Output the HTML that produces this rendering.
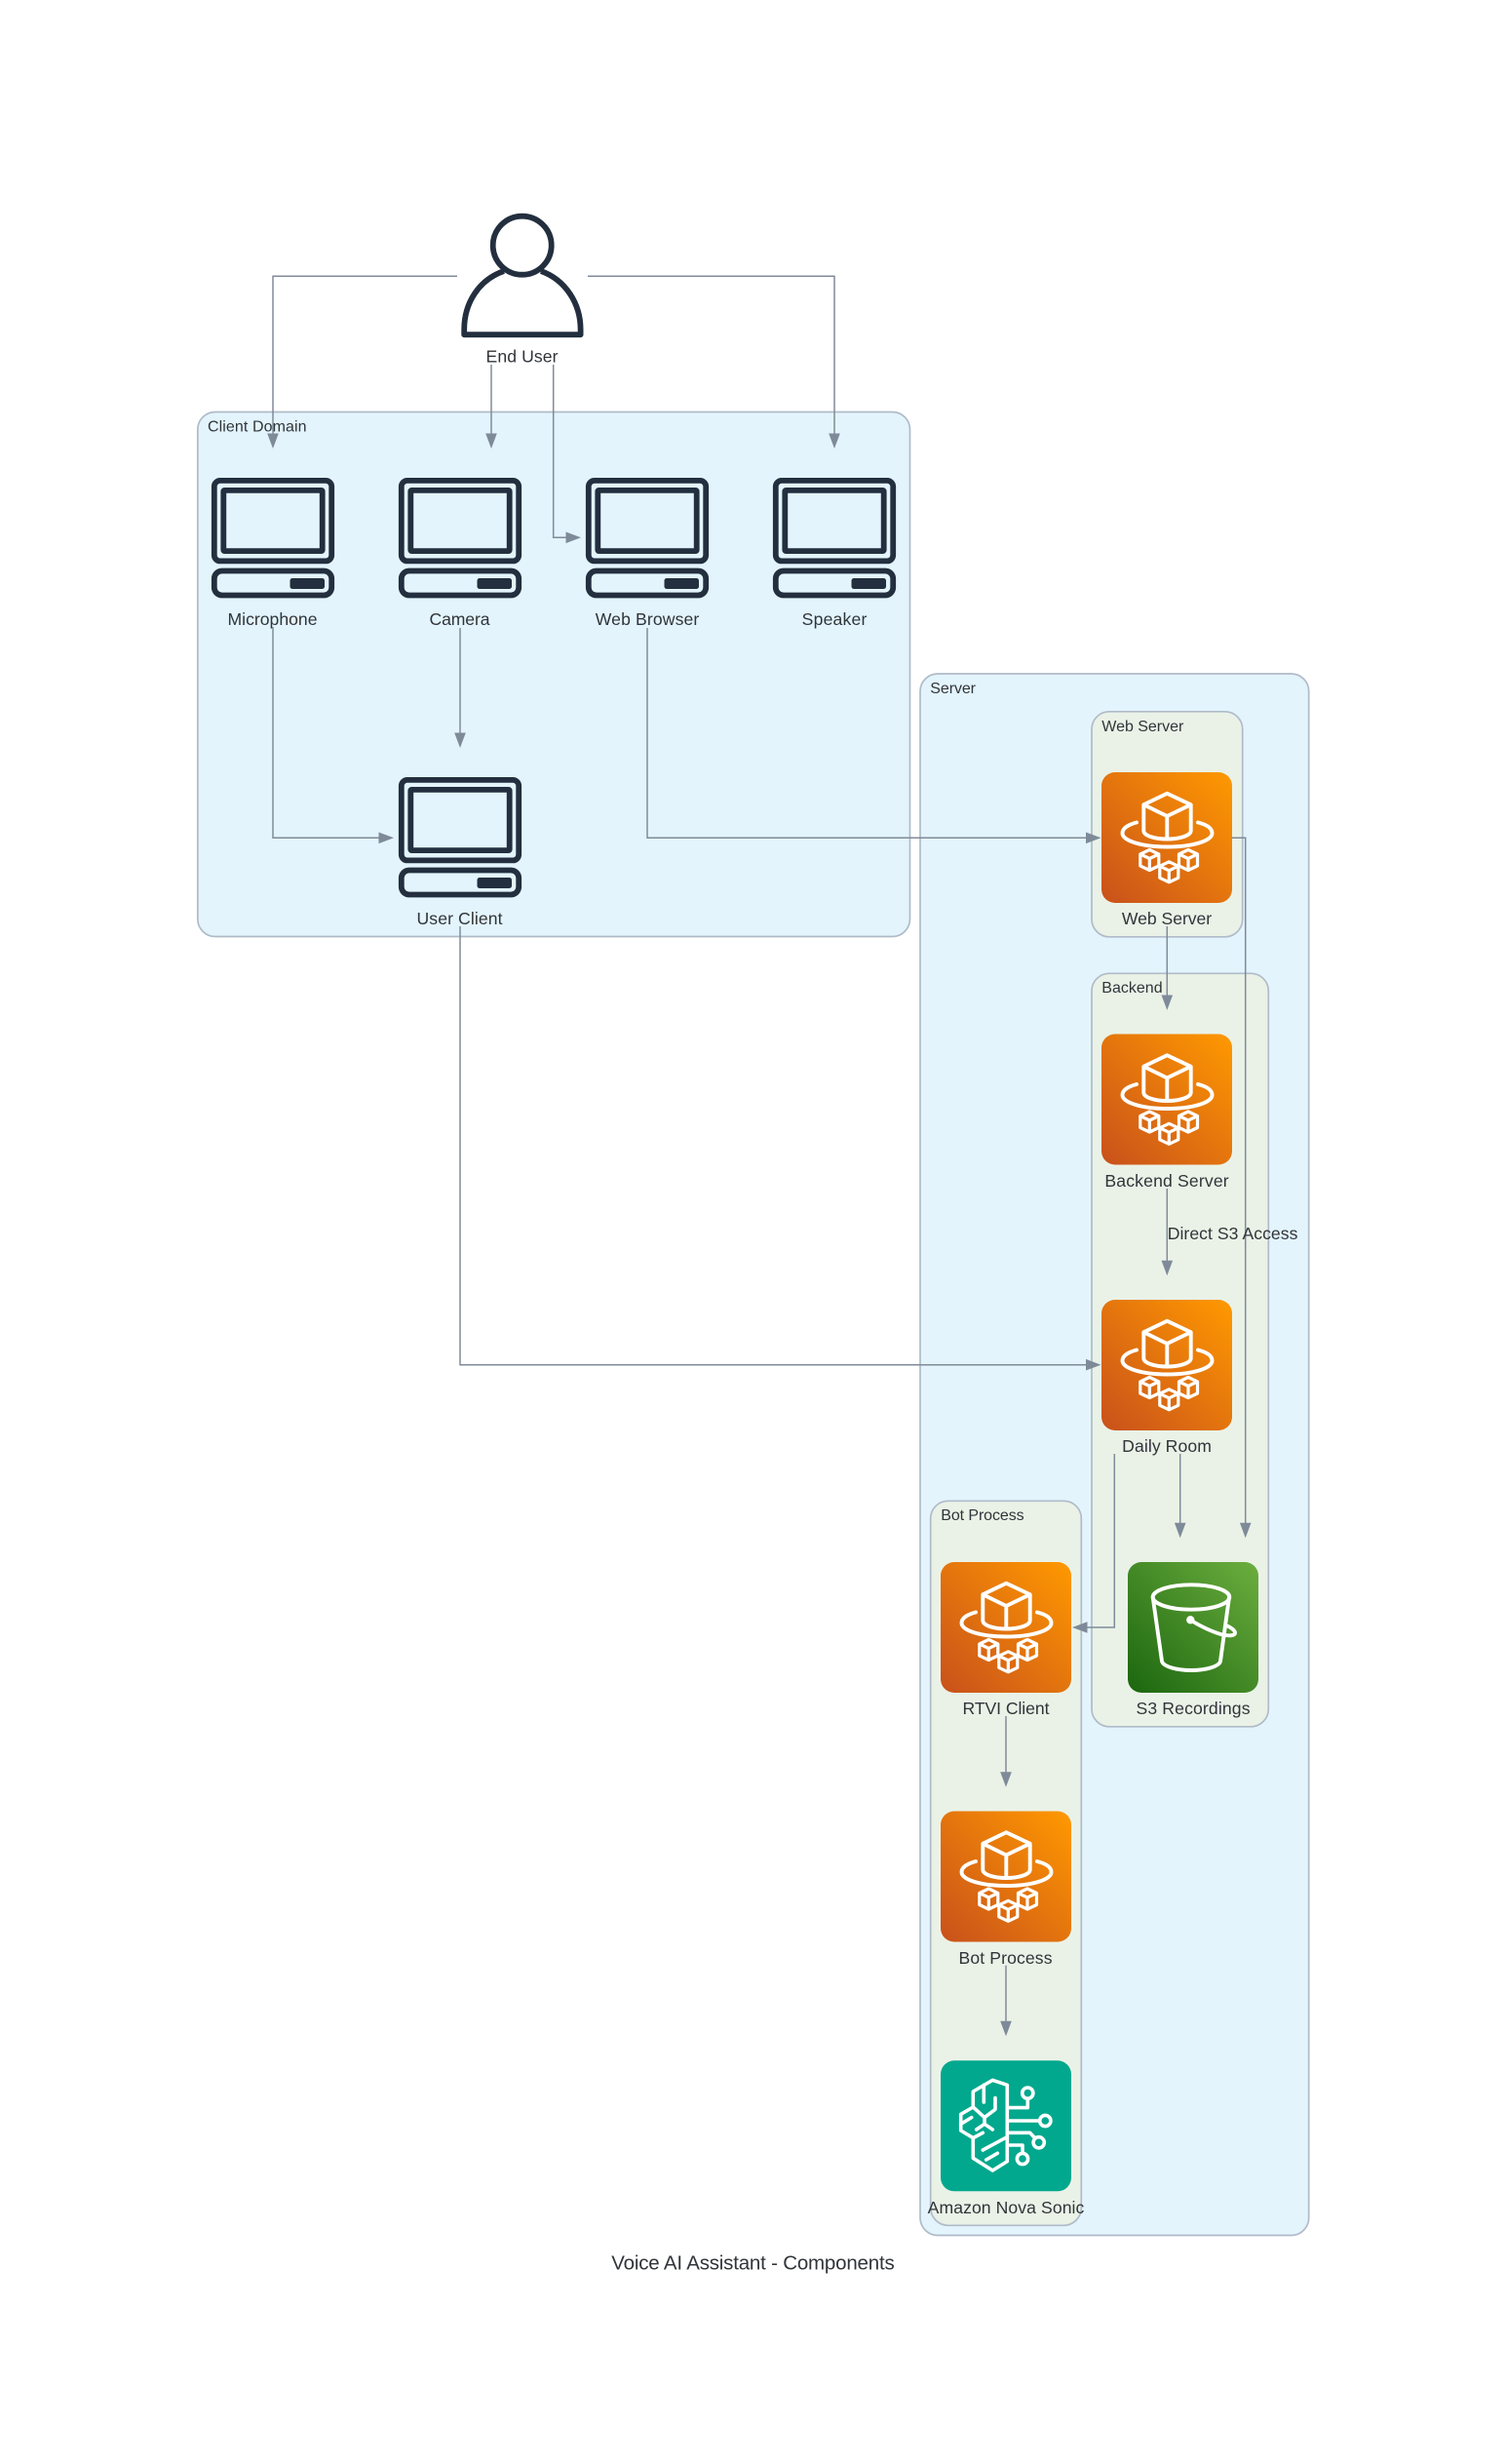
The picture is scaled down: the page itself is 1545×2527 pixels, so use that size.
<!DOCTYPE html>
<html>
<head>
<meta charset="utf-8">
<title>Voice AI Assistant - Components</title>
<style>
html,body{margin:0;padding:0;background:#fff}
svg{display:block}
text{font-family:"Liberation Sans",sans-serif;fill:#30353a}
.n{font-size:17.6px;text-anchor:middle}
.g{font-size:16px}
.e{fill:none;stroke:#808b99;stroke-width:1.5}
.a{fill:#7f8a99}
.grp{stroke:#b0bbc8;stroke-width:1.7}
.w{fill:none;stroke:#fff;stroke-width:3.9;stroke-linejoin:round;stroke-linecap:round}
</style>
</head>
<body>
<svg width="1545" height="2527" viewBox="0 0 1545 2527" xmlns="http://www.w3.org/2000/svg">
<defs>
<linearGradient id="og" x1="0" y1="1" x2="1" y2="0"><stop offset="0" stop-color="#C8511B"/><stop offset="1" stop-color="#FF9900"/></linearGradient>
<linearGradient id="gg" x1="0" y1="1" x2="1" y2="0"><stop offset="0" stop-color="#1B660F"/><stop offset="1" stop-color="#6CAE3E"/></linearGradient>
<g id="hex"><path class="w" style="stroke-width:3.2" d="M0-10.500 9.500-6V6L0 10.500-9.500 6V-6ZM-9.500-6 0-1.500 9.500-6M0-1.500V10.500"/></g>
<g id="compute">
<rect width="134" height="134" rx="14" fill="url(#og)"/>
<path class="w" d="M67.300 21.700 91.700 33.300V60C91.700 65 80 68.500 67.300 68.500S43.300 65 43.300 60V33.300ZM43.300 33.300 67.300 45 91.700 33.300M67.300 45V68.500"/>
<path class="w" d="M36 51.500C26.500 54 21.500 58 21.500 62.500 21.500 70.500 42 76.500 67.500 76.500S113.500 70.500 113.500 62.500C113.500 58 109 54 99 51.500"/>
<use href="#hex" x="49.300" y="90"/><use href="#hex" x="89" y="90"/><use href="#hex" x="69.300" y="102.300"/>
</g>
<g id="pc" fill="none" stroke="#232F3E" stroke-width="5.800">
<rect x="-60.200" y="2.900" width="120.400" height="82.500" rx="6"/>
<rect x="-50.700" y="12.900" width="101.400" height="62.200" rx="1"/>
<rect x="-60.200" y="95.500" width="120.400" height="25" rx="8"/>
<rect x="17.500" y="103" width="35.500" height="11" rx="2.500" fill="#232F3E" stroke="none"/>
</g>
<path id="ad" class="a" d="M0 0-5.800-15.500H5.800Z"/>
<path id="ar" class="a" d="M0 0-15.500-5.800V5.800Z"/>
<path id="al" class="a" d="M0 0 15.500-5.800V5.800Z"/>
</defs>

<!-- groups -->
<rect class="grp" x="202.800" y="422.500" width="730.700" height="538" rx="18" fill="#e3f4fd"/>
<rect class="grp" x="944" y="691" width="398.700" height="1601.500" rx="18" fill="#e3f4fd"/>
<rect class="grp" x="1120" y="729.800" width="154.700" height="231" rx="18" fill="#eaf2e7"/>
<rect class="grp" x="1120" y="998.300" width="181.300" height="772.500" rx="18" fill="#eaf2e7"/>
<rect class="grp" x="954.700" y="1539.300" width="154.600" height="743" rx="18" fill="#eaf2e7"/>

<!-- user -->
<g fill="none" stroke="#232F3E" stroke-width="5.800" stroke-linejoin="round">
<circle cx="535.700" cy="251.700" r="30"/>
<path d="M517 278C491 287 476.200 311 476.200 338V343.200H595.600V338C595.600 311 580 287 555 278"/>
</g>

<!-- computers -->
<use href="#pc" x="280" y="490"/>
<use href="#pc" x="472" y="490"/>
<use href="#pc" x="664" y="490"/>
<use href="#pc" x="856" y="490"/>
<use href="#pc" x="472" y="797"/>

<!-- service icons -->
<use href="#compute" x="1130" y="792"/>
<use href="#compute" x="1130" y="1060.500"/>
<use href="#compute" x="1130" y="1333"/>
<use href="#compute" x="965" y="1602"/>
<use href="#compute" x="965" y="1857.500"/>

<g transform="translate(1157 1602)">
<rect width="134" height="134" rx="14" fill="url(#gg)"/>
<ellipse class="w" cx="65" cy="36" rx="39.300" ry="12.700"/>
<path class="w" d="M25.700 36 35 101.700C36 107 50 111 65 111S94 107 95 101.700L104 36"/>
<circle cx="64.300" cy="59.300" r="4.200" fill="#fff"/>
<path class="w" d="M64.300 59.500C75 66 88 72 97 74.500 104 76 109.500 75.500 110 73 110.500 70.500 106 67 101 65"/>
</g>

<g transform="translate(965 2113.300)">
<rect width="134" height="134" rx="14" fill="#01A88D"/>
<g class="w" style="stroke-width:3.600">
<path d="M53.300 20 68.300 25V103.300L53.300 112.700 33.300 100V79.300L20.700 71.700V55L33.300 47.700V31.700Z"/>
<path d="M44.300 25V42.700M56 38.300V50L45 58.300 33.300 47.700M45 58.300V65M36.700 70.700 45 65 53.300 70.700M20.700 65 31.700 58.300M33.300 79.300 43.300 74M43.300 91.700 68.300 78.300M46.700 101.700 58.300 95"/>
<path d="M68.300 48.300H89.300V39M68.300 61.700H101.700M68.300 74H91.700L96.700 79.300M68.300 86.700H84V94.500"/>
<circle cx="89.300" cy="33.300" r="5.600"/>
<circle cx="107.300" cy="61.700" r="5.600"/>
<circle cx="100.700" cy="84" r="5.600"/>
<circle cx="84" cy="100.700" r="5.600"/>
</g>
</g>

<!-- edges -->
<path class="e" d="M469 283.300H280V446"/><use href="#ad" x="280" y="460"/>
<path class="e" d="M603 283.300H856V446"/><use href="#ad" x="856" y="460"/>
<path class="e" d="M504 374V446"/><use href="#ad" x="504" y="460"/>
<path class="e" d="M567.700 374V551.300H582"/><use href="#ar" x="596" y="551.300"/>
<path class="e" d="M280 643V859.300H390"/><use href="#ar" x="404" y="859.300"/>
<path class="e" d="M472 644V753"/><use href="#ad" x="472" y="767"/>
<path class="e" d="M664 644V859.300H1115"/><use href="#ar" x="1129.500" y="859.300"/>
<path class="e" d="M472 950V1399.700H1115"/><use href="#ar" x="1129.500" y="1399.700"/>
<path class="e" d="M1197.300 950V1022"/><use href="#ad" x="1197.300" y="1036"/>
<path class="e" d="M1264 859.300H1277.700V1563"/><use href="#ad" x="1277.700" y="1577.300"/>
<path class="e" d="M1197.300 1219V1294"/><use href="#ad" x="1197.300" y="1308.300"/>
<path class="e" d="M1210.700 1491V1563"/><use href="#ad" x="1210.700" y="1577.300"/>
<path class="e" d="M1143.300 1491V1669H1114"/><use href="#al" x="1100" y="1669"/>
<path class="e" d="M1032 1760V1819"/><use href="#ad" x="1032" y="1832.700"/>
<path class="e" d="M1032 2015.700V2074"/><use href="#ad" x="1032" y="2088.300"/>

<!-- group labels -->
<text class="g" x="213" y="442.500" textLength="101.500">Client Domain</text>
<text class="g" x="954.300" y="710.800" textLength="46.700">Server</text>
<text class="g" x="1130.300" y="749.800" textLength="84">Web Server</text>
<text class="g" x="1130.300" y="1018" textLength="62.300">Backend</text>
<text class="g" x="965.300" y="1559" textLength="85.300">Bot Process</text>

<!-- node labels -->
<text class="n" x="535.500" y="371.500" textLength="74">End User</text>
<text class="n" x="279.500" y="641" textLength="92">Microphone</text>
<text class="n" x="471.500" y="641" textLength="62">Camera</text>
<text class="n" x="664" y="641" textLength="106.500">Web Browser</text>
<text class="n" x="856" y="641" textLength="66.700">Speaker</text>
<text class="n" x="471.500" y="948" textLength="88">User Client</text>
<text class="n" x="1197" y="948" textLength="92.300">Web Server</text>
<text class="n" x="1197" y="1217" textLength="127.300">Backend Server</text>
<text class="n" x="1197" y="1489" textLength="91.700">Daily Room</text>
<text class="n" x="1032" y="1758" textLength="89">RTVI Client</text>
<text class="n" x="1224" y="1758" textLength="117">S3 Recordings</text>
<text class="n" x="1031.500" y="2014" textLength="96">Bot Process</text>
<text class="n" x="1032" y="2270" textLength="160.700">Amazon Nova Sonic</text>
<text style="font-size:17.6px" x="1197.700" y="1271" textLength="133.700">Direct S3 Access</text>

<text style="font-size:20.500px" x="627.300" y="2327.500" textLength="290.400">Voice AI Assistant - Components</text>
</svg>
</body>
</html>
